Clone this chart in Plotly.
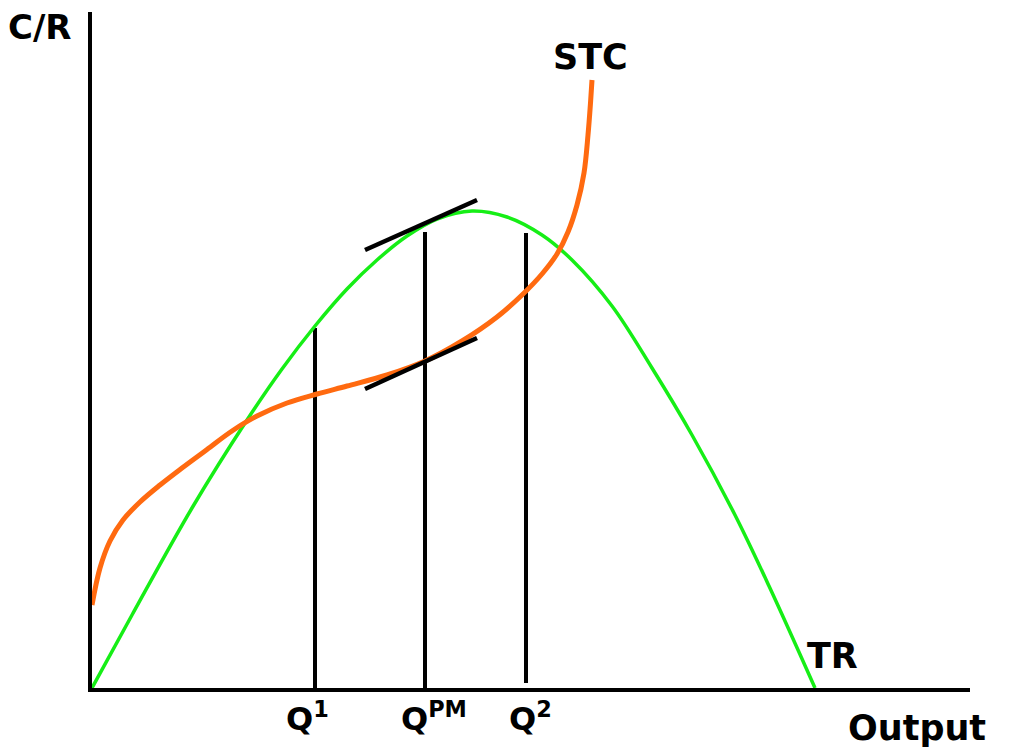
import plotly.graph_objects as go

# TR and STC curves (output units vs cost/revenue units)
tr_x = [0, 4, 10, 15.5, 19, 22.3, 25.5, 28.5, 31.5, 34.5, 38, 41.5, 45, 48, 52, 56, 60, 64.3, 67.7, 72.3]
tr_y = [0, 7.3, 18.0, 26.8, 31.9, 36.2, 39.9, 42.8, 45.2, 46.9, 47.7, 47.1, 45.3, 42.8, 38.2, 32.0, 25.3, 17.3, 10.2, 0]

stc_x = [0, 0.8, 1.8, 3.1, 4.8, 6.8, 9.0, 11.5, 14.0, 16.5, 19.5, 22.5, 25.5, 29.5, 33.3,
         37, 40.5, 43, 45, 46.5, 47.6, 48.5, 49.2, 49.6, 49.85, 50.0]
stc_y = [8.3, 12.0, 14.7, 16.8, 18.6, 20.3, 22.0, 23.85, 25.7, 27.2, 28.5, 29.4, 30.2, 31.3, 32.7,
         34.7, 37.1, 39.3, 41.4, 43.4, 45.6, 48.3, 51.5, 55.3, 58.5, 60.8]

# tangents at the profit-maximising output
tan_x = [27.3, 38.5]
tan_tr_y = [43.8, 48.8]
tan_stc_y = [29.9, 35.0]

# output levels
q_x = [22.3, 33.3, 43.4]
q_top = [36.0, 45.6, 45.5]
q_bottom = [0, 0, 0.5]
q_text = ["Q<sup>1</sup>", "Q<sup>PM</sup>", "Q<sup>2</sup>"]
q_label_x = [0.245, 0.390, 0.499]

FONT = "DejaVu Sans"
GREEN = "#16ee16"
ORANGE = "#ff6a10"

fig = go.Figure()

for x, y0, y1 in zip(q_x, q_bottom, q_top):
    fig.add_trace(go.Scatter(x=[x, x], y=[y0, y1], mode="lines",
                             line=dict(color="black", width=4),
                             hoverinfo="skip"))

fig.add_trace(go.Scatter(x=tr_x, y=tr_y, mode="lines", name="TR",
                         line=dict(color=GREEN, width=3.5, shape="spline", smoothing=1.0)))
fig.add_trace(go.Scatter(x=stc_x, y=stc_y, mode="lines", name="STC",
                         line=dict(color=ORANGE, width=5, shape="spline", smoothing=1.0)))

fig.add_trace(go.Scatter(x=tan_x, y=tan_tr_y, mode="lines",
                         line=dict(color="black", width=4.5)))
fig.add_trace(go.Scatter(x=tan_x, y=tan_stc_y, mode="lines",
                         line=dict(color="black", width=4.5)))

# labels sit partly outside the axes, so place them in paper units
labels = [
    ("<b>C/R</b>", -0.0592, 0.978, 34),
    ("<b>STC</b>", 0.568, 0.933, 35),
    ("<b>TR</b>", 0.843, 0.047, 35),
    ("<b>Output</b>", 0.940, -0.059, 35),
]
for txt, lx in zip(q_text, q_label_x):
    labels.append(("<b>" + txt + "</b>", lx, -0.043, 32))

for txt, x, y, size in labels:
    fig.add_annotation(x=x, y=y, xref="paper", yref="paper", text=txt, showarrow=False,
                       xanchor="center", yanchor="middle", borderpad=0,
                       font=dict(family=FONT, size=size, color="black"))

fig.update_layout(
    width=1010, height=751,
    margin=dict(l=84, r=48, t=4, b=71),
    paper_bgcolor="white", plot_bgcolor="white",
    showlegend=False,
    xaxis=dict(range=[0, 87.8], showgrid=False, zeroline=False, showticklabels=False,
               ticks="", showline=True, linecolor="black", linewidth=4),
    yaxis=dict(range=[0, 67.6], showgrid=False, zeroline=False, showticklabels=False,
               ticks="", showline=True, linecolor="black", linewidth=4),
)

fig.write_html("out.html")
